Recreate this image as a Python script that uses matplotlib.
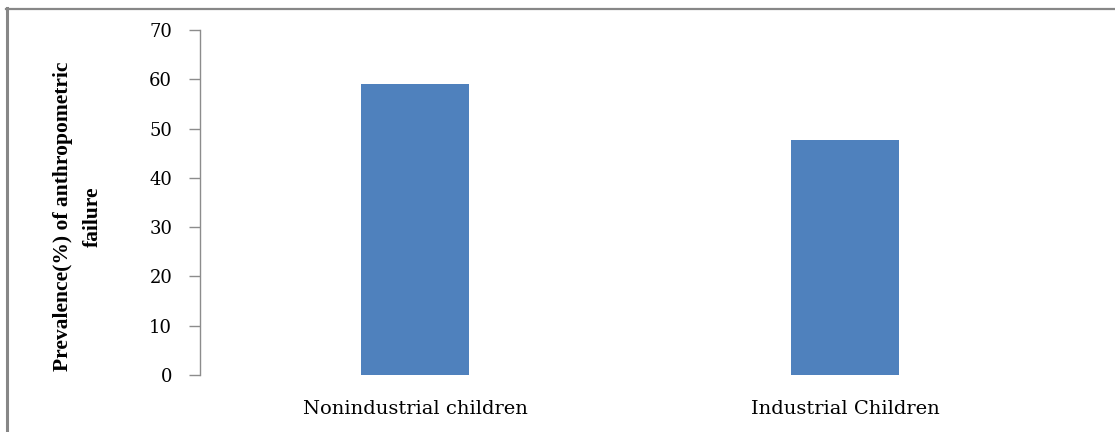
import matplotlib
matplotlib.use("Agg")
import matplotlib.pyplot as plt
from matplotlib.lines import Line2D

categories = ["Nonindustrial children", "Industrial Children"]
values = [59.0, 47.7]
yticks = [0, 10, 20, 30, 40, 50, 60, 70]

W, H = 1115, 432
fig = plt.figure(figsize=(W / 100, H / 100), dpi=100)
ax = fig.add_axes([200 / W, 1 - 375 / H, 860 / W, 345 / H])

x = list(range(len(categories)))
ax.bar(x, values, width=0.25, color="#4F81BD", zorder=2)
ax.set_xlim(-0.5, len(categories) - 0.5)
ax.set_ylim(0, 70)
ax.set_yticks(yticks)
ax.set_yticklabels([str(v) for v in yticks], family="DejaVu Serif", fontsize=13)
ax.set_xticks(x)
ax.set_xticklabels(categories, family="DejaVu Serif", fontsize=14)

for s in ["top", "right", "bottom"]:
    ax.spines[s].set_visible(False)
ax.spines["left"].set_color("#8C8C8C")
ax.spines["left"].set_linewidth(1.0)
ax.tick_params(axis="y", length=8, width=1.0, color="#8C8C8C", pad=12)
ax.tick_params(axis="x", length=0, pad=18)

ax.set_ylabel("Prevalence(%) of anthropometric\nfailure", family="Liberation Serif",
              fontweight="bold", fontsize=15.5, linespacing=1.65)
ax.yaxis.set_label_coords(-0.113, 0.46)

# outer chart border (left and top visible)
fig.add_artist(Line2D([7 / W, 7 / W], [0, 1 - 8 / H], transform=fig.transFigure,
                      color="#878787", linewidth=2.2))
fig.add_artist(Line2D([6 / W, 1], [1 - 8.5 / H, 1 - 8.5 / H], transform=fig.transFigure,
                      color="#878787", linewidth=1.6))

fig.savefig("out.png", dpi=100)
